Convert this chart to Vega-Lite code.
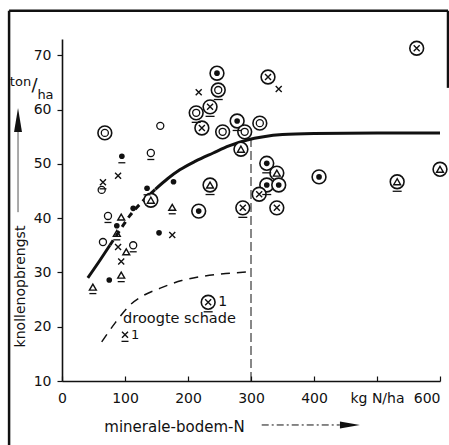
{
  "$schema": "https://vega.github.io/schema/vega-lite/v6.json",
  "width": 378,
  "height": 342,
  "autosize": {"type": "none"},
  "padding": {"left": 62, "top": 39, "right": 9, "bottom": 64},
  "background": "white",
  "config": {
    "view": {"stroke": null},
    "font": "DejaVu Sans",
    "axis": {
      "grid": false,
      "domainColor": "#111",
      "tickColor": "#111",
      "labelColor": "#111",
      "titleColor": "#111",
      "labelFontSize": 14,
      "titleFontSize": 14,
      "titleFontWeight": "normal",
      "domainWidth": 1.6,
      "tickWidth": 1.2
    }
  },
  "datasets": {
    "frame": [
      {"x": -84, "y": -1.8, "x2": -84, "y2": 78.2},
      {"x": -84, "y": 78.2, "x2": 612.7, "y2": 78.2},
      {"x": 612.7, "y": 78.2, "x2": 612.7, "y2": 64}
    ],
    "vline": [{"x": 300, "y": 10, "y2": 54.4}],
    "curve": [
      {"s": "a", "x": 41, "y": 29},
      {"s": "a", "x": 60, "y": 32.2},
      {"s": "a", "x": 76, "y": 35},
      {"s": "b", "x": 76, "y": 35},
      {"s": "b", "x": 92, "y": 37.8},
      {"s": "b", "x": 108, "y": 40.5},
      {"s": "b", "x": 128, "y": 43.1},
      {"s": "b", "x": 148, "y": 45.3},
      {"s": "c", "x": 148, "y": 45.3},
      {"s": "c", "x": 168, "y": 47.3},
      {"s": "c", "x": 187, "y": 48.9},
      {"s": "c", "x": 212, "y": 50.5},
      {"s": "c", "x": 240, "y": 52},
      {"s": "c", "x": 265, "y": 53.3},
      {"s": "c", "x": 294, "y": 54.4},
      {"s": "c", "x": 320, "y": 55},
      {"s": "c", "x": 350, "y": 55.4},
      {"s": "c", "x": 400, "y": 55.6},
      {"s": "c", "x": 500, "y": 55.7},
      {"s": "c", "x": 600, "y": 55.7},
      {"s": "d", "x": 63, "y": 17.2},
      {"s": "d", "x": 85, "y": 20.8},
      {"s": "d", "x": 108, "y": 24},
      {"s": "d", "x": 130, "y": 25.8},
      {"s": "d", "x": 156, "y": 27.1},
      {"s": "d", "x": 190, "y": 28.5},
      {"s": "d", "x": 219, "y": 29.2},
      {"s": "d", "x": 260, "y": 29.8},
      {"s": "d", "x": 298, "y": 30.1}
    ],
    "pts": [
      {"x": 68, "y": 55.7, "ring": true, "g": "o", "u": false},
      {"x": 95, "y": 51.4, "ring": false, "g": "dot", "u": true},
      {"x": 141, "y": 52, "ring": false, "g": "o", "u": true},
      {"x": 156, "y": 57, "ring": false, "g": "o", "u": false},
      {"x": 89, "y": 47.8, "ring": false, "g": "x", "u": false},
      {"x": 65, "y": 46.6, "ring": false, "g": "x", "u": true},
      {"x": 63, "y": 45.2, "ring": false, "g": "o", "u": false},
      {"x": 135, "y": 45.5, "ring": false, "g": "dot", "u": true},
      {"x": 177, "y": 46.7, "ring": false, "g": "dot", "u": false},
      {"x": 141, "y": 43.3, "ring": true, "g": "tri", "u": false},
      {"x": 175, "y": 42, "ring": false, "g": "tri", "u": true},
      {"x": 217, "y": 41.3, "ring": true, "g": "dot", "u": false},
      {"x": 235, "y": 46.1, "ring": true, "g": "tri", "u": true},
      {"x": 73, "y": 40.4, "ring": false, "g": "o", "u": true},
      {"x": 94, "y": 40.2, "ring": false, "g": "tri", "u": false},
      {"x": 113, "y": 41.8, "ring": false, "g": "dot", "u": false},
      {"x": 87, "y": 38.6, "ring": false, "g": "dot", "u": false},
      {"x": 87, "y": 37.2, "ring": false, "g": "tri", "u": true},
      {"x": 65, "y": 35.6, "ring": false, "g": "o", "u": false},
      {"x": 89, "y": 34.7, "ring": false, "g": "x", "u": false},
      {"x": 102, "y": 33.8, "ring": false, "g": "tri", "u": false},
      {"x": 113, "y": 35, "ring": false, "g": "o", "u": true},
      {"x": 94, "y": 32, "ring": false, "g": "x", "u": false},
      {"x": 94, "y": 29.5, "ring": false, "g": "tri", "u": true},
      {"x": 75, "y": 28.6, "ring": false, "g": "dot", "u": false},
      {"x": 49, "y": 27.3, "ring": false, "g": "tri", "u": true},
      {"x": 154, "y": 37.3, "ring": false, "g": "dot", "u": false},
      {"x": 175, "y": 36.9, "ring": false, "g": "x", "u": false},
      {"x": 246, "y": 66.7, "ring": true, "g": "dot", "u": false},
      {"x": 248, "y": 63.6, "ring": true, "g": "o", "u": true},
      {"x": 217, "y": 63.2, "ring": false, "g": "x", "u": false},
      {"x": 327, "y": 66, "ring": true, "g": "x", "u": false},
      {"x": 344, "y": 63.8, "ring": false, "g": "x", "u": false},
      {"x": 235, "y": 60.5, "ring": true, "g": "x", "u": true},
      {"x": 213, "y": 59.4, "ring": true, "g": "o", "u": true},
      {"x": 222, "y": 56.6, "ring": true, "g": "x", "u": false},
      {"x": 255, "y": 55.9, "ring": true, "g": "o", "u": false},
      {"x": 278, "y": 57.9, "ring": true, "g": "dot", "u": true},
      {"x": 290, "y": 55.9, "ring": true, "g": "o", "u": false},
      {"x": 314, "y": 57.5, "ring": true, "g": "o", "u": false},
      {"x": 284, "y": 52.7, "ring": true, "g": "tri", "u": false},
      {"x": 325, "y": 50.1, "ring": true, "g": "dot", "u": true},
      {"x": 341, "y": 48.3, "ring": true, "g": "tri", "u": false},
      {"x": 325, "y": 46.1, "ring": true, "g": "dot", "u": true},
      {"x": 344, "y": 46.1, "ring": true, "g": "dot", "u": false},
      {"x": 313, "y": 44.4, "ring": true, "g": "x", "u": false},
      {"x": 287, "y": 41.9, "ring": true, "g": "x", "u": true},
      {"x": 341, "y": 41.9, "ring": true, "g": "x", "u": false},
      {"x": 563, "y": 71.3, "ring": true, "g": "x", "u": false},
      {"x": 408, "y": 47.6, "ring": true, "g": "dot", "u": false},
      {"x": 532, "y": 46.7, "ring": true, "g": "tri", "u": true},
      {"x": 600, "y": 49, "ring": true, "g": "tri", "u": false},
      {"x": 232, "y": 24.5, "ring": true, "g": "x", "u": true, "lab": "1"},
      {"x": 100, "y": 18.5, "ring": false, "g": "x", "u": true, "lab": "1"}
    ],
    "arrows": [
      {"k": "xa", "x": 317, "y": 1.9, "x2": 441, "y2": 1.9},
      {"k": "ya", "x": -69.8, "y": 41.1, "x2": -69.8, "y2": 56.2}
    ],
    "heads": [
      {"k": "xa", "x": 457, "y": 1.9},
      {"k": "ya", "x": -69.8, "y": 58.1}
    ],
    "texts": [
      {"t": "ton", "x": -65.9, "y": 65.1},
      {"t": "/", "x": -43.6, "y": 64.3},
      {"t": "ha", "x": -26.2, "y": 62.7},
      {"t": "droogte schade", "x": 97, "y": 21.4}
    ]
  },
  "layer": [
    {
      "data": {"name": "frame"},
      "mark": {"type": "rule", "stroke": "#111", "strokeWidth": 2.5},
      "encoding": {
        "x": {
          "field": "x", "type": "quantitative",
          "scale": {"domain": [0, 600], "nice": false, "zero": false},
          "axis": {
            "values": [0, 100, 200, 300, 400, 500, 600],
            "labelExpr": "datum.value == 500 ? 'kg N/ha' : datum.label",
            "labelAlign": {"condition": {"test": "datum.value == 600", "value": "right"}, "value": "center"},
            "tickSize": -5,
            "labelPadding": 15,
            "labelFlush": false,
            "title": "minerale-bodem-N",
            "titleFontSize": 15,
            "titleX": 112,
            "titleY": 45,
            "titleAlign": "center",
            "titleBaseline": "middle"
          }
        },
        "y": {
          "field": "y", "type": "quantitative",
          "scale": {"domain": [10, 73], "nice": false, "zero": false},
          "axis": {
            "values": [10, 20, 30, 40, 50, 60, 70],
            "tickSize": 5,
            "labelPadding": 6,
            "title": "knollenopbrengst",
            "titleAngle": 270,
            "titleX": -42,
            "titleY": 247,
            "titleAlign": "center",
            "titleBaseline": "middle"
          }
        },
        "x2": {"field": "x2"},
        "y2": {"field": "y2"}
      }
    },
    {
      "data": {"name": "vline"},
      "mark": {"type": "rule", "stroke": "#111", "strokeWidth": 1, "strokeDash": [9, 4]},
      "encoding": {
        "x": {"field": "x", "type": "quantitative"},
        "y": {"field": "y", "type": "quantitative"},
        "y2": {"field": "y2"}
      }
    },
    {
      "data": {"name": "curve"},
      "transform": [{"filter": "datum.s == 'a' || datum.s == 'c'"}],
      "mark": {"type": "line", "stroke": "#111", "strokeWidth": 3, "interpolate": "monotone"},
      "encoding": {
        "x": {"field": "x", "type": "quantitative"},
        "y": {"field": "y", "type": "quantitative"},
        "detail": {"field": "s"}
      }
    },
    {
      "data": {"name": "curve"},
      "transform": [{"filter": "datum.s == 'b'"}],
      "mark": {"type": "line", "stroke": "#111", "strokeWidth": 3, "strokeDash": [6, 5], "interpolate": "monotone"},
      "encoding": {
        "x": {"field": "x", "type": "quantitative"},
        "y": {"field": "y", "type": "quantitative"}
      }
    },
    {
      "data": {"name": "curve"},
      "transform": [{"filter": "datum.s == 'd'"}],
      "mark": {"type": "line", "stroke": "#111", "strokeWidth": 1.5, "strokeDash": [9, 7], "interpolate": "monotone"},
      "encoding": {
        "x": {"field": "x", "type": "quantitative"},
        "y": {"field": "y", "type": "quantitative"}
      }
    },
    {
      "data": {"name": "pts"},
      "transform": [{"filter": "datum.ring"}],
      "mark": {"type": "point", "shape": "circle", "size": 190, "filled": false, "fill": "white", "fillOpacity": 1, "stroke": "#111", "strokeWidth": 1.6, "opacity": 1},
      "encoding": {
        "x": {"field": "x", "type": "quantitative"},
        "y": {"field": "y", "type": "quantitative"}
      }
    },
    {
      "data": {"name": "pts"},
      "transform": [{"filter": "datum.g == 'o'"}],
      "mark": {"type": "point", "shape": "circle", "size": 50, "filled": false, "stroke": "#111", "strokeWidth": 1.3, "opacity": 1},
      "encoding": {
        "x": {"field": "x", "type": "quantitative"},
        "y": {"field": "y", "type": "quantitative"}
      }
    },
    {
      "data": {"name": "pts"},
      "transform": [{"filter": "datum.g == 'dot'"}],
      "mark": {"type": "point", "shape": "circle", "size": 32, "filled": true, "fill": "#111", "opacity": 1},
      "encoding": {
        "x": {"field": "x", "type": "quantitative"},
        "y": {"field": "y", "type": "quantitative"}
      }
    },
    {
      "data": {"name": "pts"},
      "transform": [{"filter": "datum.g == 'x'"}],
      "mark": {"type": "point", "shape": "M-1,-1L1,1M-1,1L1,-1", "size": 36, "filled": false, "stroke": "#111", "strokeWidth": 1.4, "opacity": 1},
      "encoding": {
        "x": {"field": "x", "type": "quantitative"},
        "y": {"field": "y", "type": "quantitative"}
      }
    },
    {
      "data": {"name": "pts"},
      "transform": [{"filter": "datum.g == 'tri'"}],
      "mark": {"type": "point", "shape": "triangle-up", "size": 48, "filled": false, "stroke": "#111", "strokeWidth": 1.4, "opacity": 1},
      "encoding": {
        "x": {"field": "x", "type": "quantitative"},
        "y": {"field": "y", "type": "quantitative"}
      }
    },
    {
      "data": {"name": "pts"},
      "transform": [{"filter": "datum.u && !datum.ring"}],
      "mark": {"type": "point", "shape": "M-0.7,1.3L0.7,1.3", "size": 100, "filled": false, "stroke": "#111", "strokeWidth": 1.3, "opacity": 1},
      "encoding": {
        "x": {"field": "x", "type": "quantitative"},
        "y": {"field": "y", "type": "quantitative"}
      }
    },
    {
      "data": {"name": "pts"},
      "transform": [{"filter": "datum.u && datum.ring"}],
      "mark": {"type": "point", "shape": "M-0.9,1.9L0.9,1.9", "size": 100, "filled": false, "stroke": "#111", "strokeWidth": 1.3, "opacity": 1},
      "encoding": {
        "x": {"field": "x", "type": "quantitative"},
        "y": {"field": "y", "type": "quantitative"}
      }
    },
    {
      "data": {"name": "pts"},
      "transform": [{"filter": "datum.lab && datum.ring"}],
      "mark": {"type": "text", "align": "left", "baseline": "middle", "dx": 10, "fontSize": 14, "fill": "#111", "font": "DejaVu Sans"},
      "encoding": {
        "x": {"field": "x", "type": "quantitative"},
        "y": {"field": "y", "type": "quantitative"},
        "text": {"field": "lab"}
      }
    },
    {
      "data": {"name": "pts"},
      "transform": [{"filter": "datum.lab && !datum.ring"}],
      "mark": {"type": "text", "align": "left", "baseline": "middle", "dx": 6, "fontSize": 13, "fill": "#111", "font": "DejaVu Sans"},
      "encoding": {
        "x": {"field": "x", "type": "quantitative"},
        "y": {"field": "y", "type": "quantitative"},
        "text": {"field": "lab"}
      }
    },
    {
      "data": {"name": "arrows"},
      "transform": [{"filter": "datum.k == 'xa'"}],
      "mark": {"type": "rule", "stroke": "#111", "strokeWidth": 1, "strokeDash": [7, 3, 2, 3]},
      "encoding": {
        "x": {"field": "x", "type": "quantitative"},
        "y": {"field": "y", "type": "quantitative"},
        "x2": {"field": "x2"},
        "y2": {"field": "y2"}
      }
    },
    {
      "data": {"name": "arrows"},
      "transform": [{"filter": "datum.k == 'ya'"}],
      "mark": {"type": "rule", "stroke": "#555", "strokeWidth": 1},
      "encoding": {
        "x": {"field": "x", "type": "quantitative"},
        "y": {"field": "y", "type": "quantitative"},
        "x2": {"field": "x2"},
        "y2": {"field": "y2"}
      }
    },
    {
      "data": {"name": "heads"},
      "transform": [{"filter": "datum.k == 'xa'"}],
      "mark": {"type": "point", "shape": "M-1,-0.35L1,0L-1,0.35Z", "size": 400, "filled": true, "fill": "#111", "opacity": 1},
      "encoding": {
        "x": {"field": "x", "type": "quantitative"},
        "y": {"field": "y", "type": "quantitative"}
      }
    },
    {
      "data": {"name": "heads"},
      "transform": [{"filter": "datum.k == 'ya'"}],
      "mark": {"type": "point", "shape": "M-0.33,1L0,-1L0.33,1Z", "size": 576, "filled": true, "fill": "#111", "opacity": 1},
      "encoding": {
        "x": {"field": "x", "type": "quantitative"},
        "y": {"field": "y", "type": "quantitative"}
      }
    },
    {
      "data": {"name": "texts"},
      "transform": [{"filter": "datum.t == 'ton' || datum.t == 'ha'"}],
      "mark": {"type": "text", "align": "center", "baseline": "middle", "fontSize": 13, "fill": "#111", "font": "DejaVu Sans"},
      "encoding": {
        "x": {"field": "x", "type": "quantitative"},
        "y": {"field": "y", "type": "quantitative"},
        "text": {"field": "t"}
      }
    },
    {
      "data": {"name": "texts"},
      "transform": [{"filter": "datum.t == '/'"}],
      "mark": {"type": "text", "align": "center", "baseline": "middle", "fontSize": 18, "fill": "#111", "font": "DejaVu Sans"},
      "encoding": {
        "x": {"field": "x", "type": "quantitative"},
        "y": {"field": "y", "type": "quantitative"},
        "text": {"field": "t"}
      }
    },
    {
      "data": {"name": "texts"},
      "transform": [{"filter": "datum.t == 'droogte schade'"}],
      "mark": {"type": "text", "align": "left", "baseline": "middle", "fontSize": 14.5, "fill": "#111", "font": "DejaVu Sans"},
      "encoding": {
        "x": {"field": "x", "type": "quantitative"},
        "y": {"field": "y", "type": "quantitative"},
        "text": {"field": "t"}
      }
    }
  ]
}
